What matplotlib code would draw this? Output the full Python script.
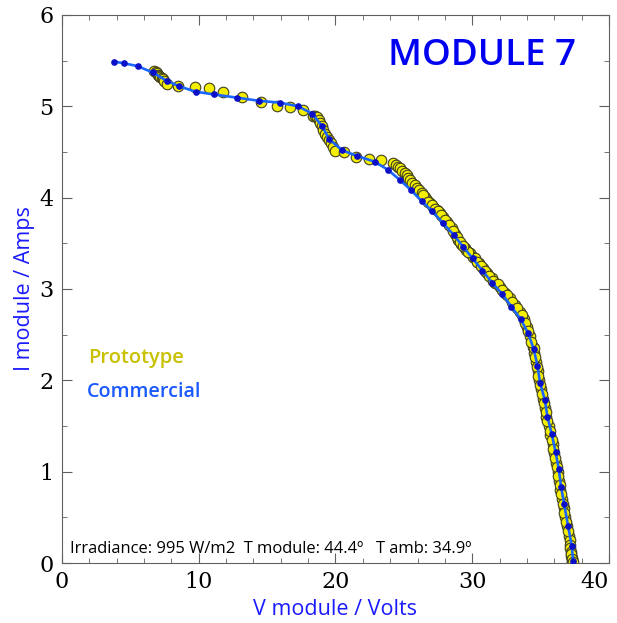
import numpy as np
import matplotlib
matplotlib.use("Agg")
import matplotlib.pyplot as plt
from matplotlib.ticker import MultipleLocator

# commercial module I-V curve (V, A)
v_comm = [3.8, 4.55, 5.53, 6.63, 7.65, 8.55, 9.77, 11.1, 12.77, 14.42, 15.94,
          17.27, 18.30, 19.03, 19.54, 20.47, 21.6, 22.86, 23.85, 24.71, 25.51,
          26.29, 27.07, 27.87, 28.65, 29.33, 30.02, 30.75, 31.45, 32.19, 32.87,
          33.53, 34.09, 34.50, 34.77, 34.96, 35.31, 35.50, 35.82, 36.09, 36.33,
          36.50, 36.72, 37.01, 37.28, 37.38]
i_comm = [5.49, 5.47, 5.44, 5.37, 5.28, 5.22, 5.16, 5.13, 5.095, 5.06, 5.04,
          5.00, 4.92, 4.78, 4.64, 4.52, 4.455, 4.394, 4.303, 4.193, 4.084,
          3.963, 3.854, 3.719, 3.591, 3.463, 3.336, 3.20, 3.07, 2.945, 2.806,
          2.672, 2.515, 2.34, 2.16, 1.974, 1.785, 1.602, 1.409, 1.219, 1.026,
          0.835, 0.646, 0.405, 0.186, 0.025]

# prototype module measurements (V, A)
v_proto = [6.75, 6.85, 6.92, 7.0, 7.09, 7.18, 7.29, 7.38, 7.46, 7.65, 8.50,
           9.72, 10.75, 11.75, 13.14, 14.55, 15.69, 16.67, 17.64, 18.37, 18.5,
           18.66, 18.76, 18.86, 18.98, 19.10, 19.22, 19.35, 19.5, 19.64, 19.8,
           19.96, 20.61, 21.49, 22.44, 23.34, 24.22, 24.4, 24.58, 24.75, 24.90,
           25.05, 25.20, 25.32, 25.44, 25.62, 25.80, 25.96, 26.12, 26.33, 26.54,
           26.72, 26.90, 27.15, 27.39, 27.63, 27.87, 28.18, 28.49, 28.73, 28.97,
           29.20, 29.46, 29.58, 29.8, 30.02, 30.19, 30.5, 30.80, 31.1, 31.41,
           31.7, 32.02, 32.4, 32.75, 33.1, 33.48, 33.75, 33.97, 34.2, 34.45,
           34.52, 34.66, 34.78, 34.88, 35.02, 35.18, 35.33, 35.42, 35.58, 35.72,
           35.88, 36.00, 36.15, 36.25, 36.38, 36.45, 36.58, 36.68, 36.80, 36.92,
           37.05, 37.12, 37.15, 37.18, 37.22, 37.25, 37.28, 37.30, 37.32,
           34.50, 34.60, 34.70, 34.84, 34.93, 35.12, 35.24, 35.38, 35.50, 35.66,
           35.80, 35.93, 36.08, 36.20, 36.30, 36.42, 36.52, 36.62, 36.74, 36.86,
           36.98, 37.20, 37.26, 37.34,
           29.7, 30.35, 30.65, 30.95, 31.25, 31.55, 31.85, 32.2, 32.57, 32.9,
           33.3, 33.62, 33.86, 34.08, 34.32,
           26.43, 26.8, 27.03, 27.27, 27.5, 27.75, 28.0, 28.33, 28.6, 28.85,
           29.08, 29.33]
i_proto = [5.39, 5.37, 5.36, 5.345, 5.33, 5.32, 5.31, 5.295, 5.28, 5.245, 5.22,
           5.21, 5.20, 5.16, 5.106, 5.05, 5.004, 4.996, 4.96, 4.895, 4.89,
           4.887, 4.85, 4.814, 4.78, 4.741, 4.70, 4.668, 4.63, 4.595, 4.55,
           4.514, 4.503, 4.449, 4.420, 4.413, 4.383, 4.36, 4.339, 4.32, 4.295,
           4.27, 4.248, 4.22, 4.193, 4.165, 4.139, 4.11, 4.084, 4.05, 4.011,
           3.975, 3.938, 3.90, 3.865, 3.83, 3.792, 3.73, 3.665, 3.60, 3.537,
           3.49, 3.446, 3.427, 3.39, 3.354, 3.336, 3.28, 3.227, 3.17, 3.117,
           3.07, 3.025, 2.96, 2.898, 2.83, 2.752, 2.67, 2.587, 2.48, 2.368,
           2.30, 2.20, 2.10, 2.00, 1.90, 1.80, 1.70, 1.60, 1.50, 1.40,
           1.30, 1.20, 1.10, 1.00, 0.90, 0.80, 0.70, 0.60, 0.50, 0.40,
           0.30, 0.25, 0.20, 0.16, 0.12, 0.08, 0.05, 0.02, 0.0,
           2.35, 2.25, 2.15, 2.05, 1.95, 1.85, 1.75, 1.65, 1.55, 1.45,
           1.35, 1.25, 1.15, 1.05, 0.95, 0.85, 0.75, 0.65, 0.55, 0.45,
           0.35, 0.10, 0.04, 0.01,
           3.40, 3.30, 3.25, 3.20, 3.14, 3.09, 3.05, 2.99, 2.93, 2.86,
           2.79, 2.71, 2.63, 2.54, 2.42,
           4.03, 3.955, 3.92, 3.88, 3.85, 3.81, 3.76, 3.70, 3.63, 3.57,
           3.51, 3.47]

x_ticks = [0, 10, 20, 30, 40]
title = "MODULE 7"
conditions = "Irradiance: 995 W/m2  T module: 44.4º   T amb: 34.9º"

sans = ["Open Sans", "DejaVu Sans"]

fig = plt.figure(figsize=(6.17, 6.23), dpi=100)
ax = fig.add_axes([0.1005, 0.0963, 0.8865, 0.8797])

ax.plot(v_proto, i_proto, "o", ms=7.6, mfc="#f4ee00", mec="#404020", mew=0.8,
        zorder=2)
ax.plot(v_comm, i_comm, "-", color="#1a66ff", lw=1.9, zorder=3)
ax.plot(v_comm, i_comm, "o", ms=3.8, mfc="#0a10c8", mec="#0a10c8", zorder=4)

ax.set_xlim(0, 40)
ax.set_ylim(0, 6)
ax.set_xticks(x_ticks)
ax.xaxis.set_minor_locator(MultipleLocator(2))
ax.yaxis.set_major_locator(MultipleLocator(1))
ax.yaxis.set_minor_locator(MultipleLocator(0.5))
ax.tick_params(which="both", direction="in", top=True, right=True,
               color="#606060")
ax.tick_params(which="major", length=7, labelsize=16)
ax.tick_params(axis="x", which="major", pad=6)
ax.tick_params(axis="y", which="major", pad=6)
ax.tick_params(which="minor", length=3.5)
for lab in ax.get_xticklabels() + ax.get_yticklabels():
    lab.set_fontfamily("DejaVu Serif")
# the 40 label sits on the figure edge: pull it inside
ax.get_xticklabels()[-1].set_horizontalalignment("right")
for s in ax.spines.values():
    s.set_color("#606060")

ax.set_xlabel("V module / Volts", color="#1a1aff", fontsize=15.5, family=sans,
              labelpad=4)
ax.set_ylabel("I module / Amps", color="#1a1aff", fontsize=15.5, family=sans,
              labelpad=3)

ax.text(23.83, 5.453, title, color="#0000f0", fontsize=26.5, family=sans,
        weight="semibold", ha="left", va="baseline")
ax.text(1.9, 2.19, "Prototype", color="#c8c000", fontsize=14.5, family=sans,
        weight="semibold", va="baseline")
ax.text(1.83, 1.82, "Commercial", color="#1a5aff", fontsize=14.2, family=sans,
        weight="semibold", va="baseline")
ax.text(0.58, 0.11, conditions, color="black", fontsize=11.9, family=sans,
        weight="medium", va="baseline")

fig.savefig("out.png", dpi=100)
